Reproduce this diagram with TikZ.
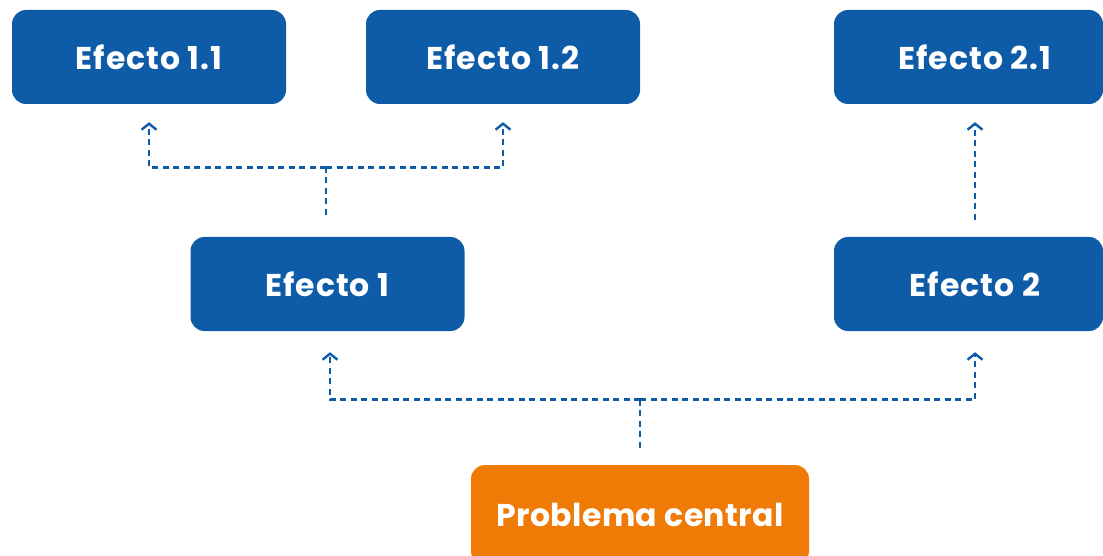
\documentclass[tikz,border=0pt]{standalone}
\usepackage{fontspec}
\setmainfont{Poppins}[BoldFont={* Bold}, LetterSpace=3]
\newfontfamily\probfont{Poppins}[BoldFont={* Bold}, LetterSpace=1.5]
\usetikzlibrary{arrows.meta,calc}
\definecolor{bluebox}{HTML}{0E5CA8}
\definecolor{orangebox}{HTML}{F07A06}
\tikzset{
  box/.style={fill=bluebox, rounded corners=14pt, minimum width=274pt, minimum height=94pt,
    text=white, font=\bfseries\fontsize{31.5}{36}\selectfont, inner sep=0pt},
  probbox/.style={box, fill=orangebox, minimum width=338pt, minimum height=100pt,
    font=\probfont\bfseries\fontsize{31.5}{36}\selectfont},
  dline/.style={draw=bluebox, line width=2.8pt, dash pattern=on 6pt off 4.5pt},
  arr/.style={dline, -{Straight Barb[length=6pt,width=15pt,line width=2.4pt]}}
}
\begin{document}
\begin{tikzpicture}[x=1pt,y=1pt]
\useasboundingbox (0,0) rectangle (1103,555);
\begin{scope}
\clip (0,0) rectangle (1103,555);
\node[box] (e11) at (149,498) {Efecto 1.1};
\node[box] (e12) at (503,498) {Efecto 1.2};
\node[box, minimum width=269pt] (e21) at (968.5,498) {\hspace*{13pt}Efecto 2.1};
\node[box] (e1) at (327.5,271) {Efecto 1};
\node[box, minimum width=269pt] (e2) at (968.5,271) {\hspace*{13pt}Efecto 2};
\node[probbox] (p) at (640,40) {Problema central};
\end{scope}
% Efecto 1 -> 1.1, 1.2
\coordinate (s1) at ($(e1.north)+(-1.5,22)$);
\coordinate (j1) at ($(s1)+(0,47)$);
\draw[dline] (s1) -- (j1);
\draw[arr] (j1) -| ($(e11.south)+(0,-18)$);
\draw[arr] (j1) -| ($(e12.south)+(0,-18)$);
% Efecto 2 -> 2.1
\draw[arr] ($(e2.north)+(6.5,17)$) -- ($(e21.south)+(6.5,-18)$);
% Problema -> Efecto 1, 2
\coordinate (sp) at ($(p.north)+(0,17)$);
\coordinate (jp) at ($(sp)+(0,48)$);
\draw[dline] (sp) -- (jp);
\draw[arr] (jp) -| ($(e1.south)+(2.5,-21)$);
\draw[arr] (jp) -| ($(e2.south)+(6.5,-21)$);
\end{tikzpicture}
\end{document}
